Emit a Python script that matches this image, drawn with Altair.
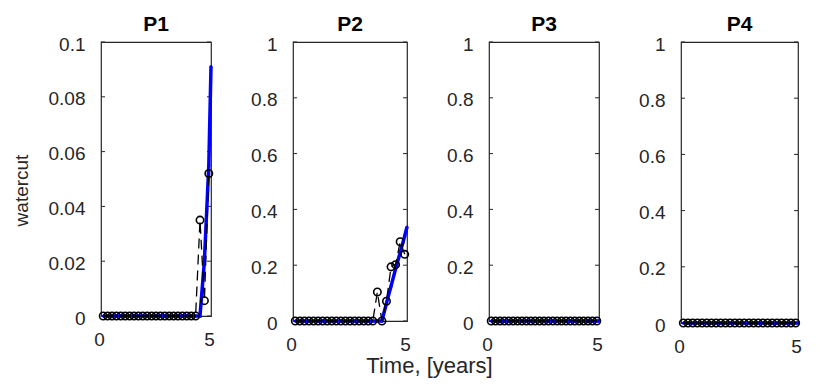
import altair as alt
import pandas as pd

FONT = "Liberation Sans"

panels = ["P1", "P2", "P3", "P4"]

# report times (years) of the observed (black, dashed, circles) series
t_obs = [0.1, 0.3, 0.5, 0.7, 0.9, 1.1, 1.3, 1.5, 1.7, 1.9, 2.1, 2.3, 2.5,
         2.7, 2.9, 3.1, 3.3, 3.5, 3.7, 3.9, 4.1, 4.3, 4.5, 4.7, 4.9]
# simulated (blue, solid) series times
t_sim = [0.1, 0.3, 0.5, 0.7, 0.9, 1.1, 1.3, 1.5, 1.7, 1.9, 2.1, 2.3, 2.5,
         2.7, 2.9, 3.1, 3.3, 3.5, 3.7, 3.9, 4.1, 4.3, 4.5, 4.7, 4.9, 5.0]

obs_p1 = [0, 0, 0, 0, 0, 0, 0, 0, 0, 0, 0, 0, 0, 0, 0, 0, 0, 0, 0, 0, 0, 0,
          0.035, 0.0056, 0.052]
obs_p2 = [0, 0, 0, 0, 0, 0, 0, 0, 0, 0, 0, 0, 0, 0, 0, 0, 0, 0,
          0.104, 0.0, 0.071, 0.194, 0.202, 0.284, 0.239]
obs_p3 = [0, 0, 0, 0, 0, 0, 0, 0, 0, 0, 0, 0, 0, 0, 0, 0, 0, 0, 0, 0, 0, 0, 0, 0, 0]
obs_p4 = [0, 0, 0, 0, 0, 0, 0, 0, 0, 0, 0, 0, 0, 0, 0, 0, 0, 0, 0, 0, 0, 0, 0, 0, 0]

sim_p1 = [0, 0, 0, 0, 0, 0, 0, 0, 0, 0, 0, 0, 0, 0, 0, 0, 0, 0, 0, 0, 0, 0, 0,
          0.02, 0.055, 0.091]
sim_p2 = [0, 0, 0, 0, 0, 0, 0, 0, 0, 0, 0, 0, 0, 0, 0, 0, 0, 0, 0, 0,
          0.064, 0.125, 0.187, 0.245, 0.305, 0.337]
sim_p3 = [0, 0, 0, 0, 0, 0, 0, 0, 0, 0, 0, 0, 0, 0, 0, 0, 0, 0, 0, 0, 0, 0, 0, 0, 0, 0]
sim_p4 = [0, 0, 0, 0, 0, 0, 0, 0, 0, 0, 0, 0, 0, 0, 0, 0, 0, 0, 0, 0, 0, 0, 0, 0, 0, 0]

yticks_p1 = [0, 0.02, 0.04, 0.06, 0.08, 0.1]
yticks_unit = [0, 0.2, 0.4, 0.6, 0.8, 1]
xticks = [0, 5]

obs_all = [obs_p1, obs_p2, obs_p3, obs_p4]
sim_all = [sim_p1, sim_p2, sim_p3, sim_p4]
ymax_all = [0.1, 1, 1, 1]
yticks_all = [yticks_p1, yticks_unit, yticks_unit, yticks_unit]
widths = [110, 114, 110, 117]
heights = [274, 279, 279, 281]


def panel(i):
    name = panels[i]
    w, h = widths[i], heights[i]
    df_obs = pd.DataFrame({"t": t_obs, "v": obs_all[i]})
    df_sim = pd.DataFrame({"t": t_sim, "v": sim_all[i]})
    df_tk = pd.DataFrame({"v": yticks_all[i]})

    if i == 1:
        xaxis = alt.Axis(values=xticks, format="~g", title="Time, [years]",
                         titleX=136, titleY=51, titleAlign="center",
                         titleBaseline="alphabetic", titleFontSize=22)
    else:
        xaxis = alt.Axis(values=xticks, format="~g", title=None)
    if i == 0:
        yaxis = alt.Axis(values=yticks_all[i], format="~g", title="watercut",
                         titleX=-80, titleY=148, titleAlign="center",
                         titleBaseline="middle", titleAngle=270, titleFontSize=19)
    else:
        yaxis = alt.Axis(values=yticks_all[i], format="~g", title=None)

    x = alt.X("t:Q", scale=alt.Scale(domain=[0, 5], nice=False, zero=False), axis=xaxis)
    y = alt.Y("v:Q", scale=alt.Scale(domain=[0, ymax_all[i]], nice=False), axis=yaxis)

    sim_line = alt.Chart(df_sim).mark_line(color="#0000ff", strokeWidth=3.5).encode(x=x, y=y)
    sim_pts = alt.Chart(df_sim).mark_point(shape="circle", filled=True, color="#0000ff",
                                           size=10, opacity=1).encode(x=x, y=y)
    obs_line = alt.Chart(df_obs).mark_line(color="#000000", strokeWidth=1.3,
                                           strokeDash=[10, 6]).encode(x=x, y=y)
    obs_pts = alt.Chart(df_obs).mark_point(shape="circle", filled=False, color="#000000",
                                           size=55, strokeWidth=1.6, opacity=1).encode(x=x, y=y)
    tk_left = alt.Chart(df_tk).mark_rule(color="#262626", strokeWidth=1).encode(
        y=alt.Y("v:Q"), x=alt.value(0), x2=alt.value(4))
    tk_right = alt.Chart(df_tk).mark_rule(color="#262626", strokeWidth=1).encode(
        y=alt.Y("v:Q"), x=alt.value(w - 4), x2=alt.value(w))

    return alt.layer(tk_left, tk_right, sim_line, sim_pts, obs_line, obs_pts).properties(
        width=w, height=h,
        title=alt.TitleParams(name, anchor="middle", fontSize=21, fontWeight="bold",
                              font=FONT, color="#000000", offset=0))


chart = alt.hconcat(*[panel(i) for i in range(4)], spacing=82, bounds="flush").properties(
    padding={"left": 3, "top": 5, "right": 5, "bottom": 5}
).configure_view(
    stroke="#262626", strokeWidth=1.2
).configure_axis(
    domain=False, grid=False, ticks=False,
    labelFont=FONT, labelFontSize=19, labelColor="#262626",
    titleFont=FONT, titleFontSize=20, titleColor="#262626", titleFontWeight="normal"
).configure_axisX(
    labelPadding=14, labelFlush=False, labelOffset=-2
).configure_axisY(
    labelPadding=16, labelOffset=2
)

chart.save("out.html", embed_options={"renderer": "svg", "actions": False})
